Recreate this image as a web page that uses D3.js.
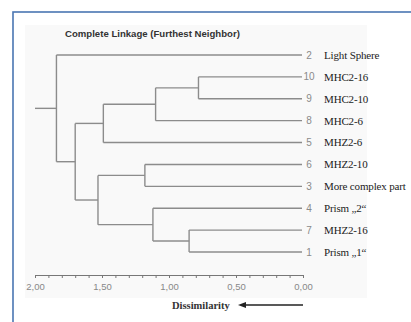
<!DOCTYPE html>
<html>
<head>
<meta charset="utf-8">
<script src="https://cdn.jsdelivr.net/npm/d3@7"></script>
<style>
  body { margin: 0; background: #fff; }
  svg { display: block; }
</style>
</head>
<body>
<svg id="dendro" width="411" height="322"></svg>
<script>
// leaf order top to bottom, case numbers and names
var leafIds = ["2", "10", "9", "8", "5", "6", "3", "4", "7", "1"];
var leafNames = ["Light Sphere", "MHC2-16", "MHC2-10", "MHC2-6", "MHZ2-6", "MHZ2-10",
  "More complex part", "Prism \u201e2\u201c", "MHZ2-16", "Prism \u201e1\u201c"];
// merge steps: [child a, child b, dissimilarity], cluster of step i is "m" + i
var merges = [
  ["10", "9", 0.78],
  ["7", "1", 0.85],
  ["m0", "8", 1.10],
  ["4", "m1", 1.12],
  ["6", "3", 1.18],
  ["m2", "5", 1.49],
  ["m4", "m3", 1.53],
  ["m5", "m6", 1.70],
  ["2", "m7", 1.84]
];
var axisTicks = [2, 1.5, 1, 0.5, 0];

var svg = d3.select("svg#dendro");

// frame
svg.append("rect").attr("x", 13).attr("y", 12).attr("width", 420).attr("height", 330)
  .attr("fill", "#fff").attr("stroke", "#4a76b2").attr("stroke-width", 1.6);
svg.append("rect").attr("x", 25).attr("y", 25).attr("width", 342).attr("height", 273)
  .attr("fill", "#f9f9f9");

var x = d3.scaleLinear().domain([2, 0]).range([35, 303]);
var y = d3.scalePoint().domain(leafIds).range([55, 252]);

// build tree from merge table
var nodes = {};
leafIds.forEach(function (id, i) { nodes[id] = { id: id, name: leafNames[i], h: 0 }; });
merges.forEach(function (m, i) {
  nodes["m" + i] = { id: "m" + i, h: m[2], children: [nodes[m[0]], nodes[m[1]]] };
});
var root = d3.hierarchy(nodes["m" + (merges.length - 1)]);
root.eachAfter(function (d) {
  d.py = d.children ? (d.children[0].py + d.children[1].py) / 2 : y(d.data.id);
});

svg.append("text").attr("x", 65).attr("y", 37)
  .style("font", "bold 9.6px 'Liberation Sans', Arial, sans-serif")
  .attr("fill", "#333").text("Complete Linkage (Furthest Neighbor)");

var g = svg.append("g").attr("fill", "none").attr("stroke", "#8c8c8c").attr("stroke-width", 1.4);

root.descendants().forEach(function (d) {
  if (d.children) {
    g.append("line").attr("x1", x(d.data.h)).attr("x2", x(d.data.h))
      .attr("y1", d.children[0].py).attr("y2", d.children[1].py);
  }
  var x0 = d.parent ? x(d.parent.data.h) : x(2);
  var x1 = d.children ? x(d.data.h) : x(0) - 1;
  g.append("line").attr("x1", x0).attr("x2", x1).attr("y1", d.py).attr("y2", d.py);
});

svg.selectAll("text.num").data(leafIds).enter().append("text")
  .attr("class", "num")
  .attr("x", 309).attr("y", function (d) { return y(d); }).attr("dy", "0.35em")
  .attr("text-anchor", "middle")
  .style("font", "10px 'Liberation Sans', Arial, sans-serif")
  .attr("fill", "#8a8a8a").text(function (d) { return d; });

svg.selectAll("text.name").data(leafNames).enter().append("text")
  .attr("class", "name")
  .attr("x", 324).attr("y", function (d, i) { return y(leafIds[i]); }).attr("dy", "0.35em")
  .style("font", "11px 'Liberation Serif', 'Times New Roman', serif")
  .style("letter-spacing", "-0.15px")
  .attr("fill", "#222").text(function (d) { return d; });

// axis
var axis = svg.append("g").attr("transform", "translate(0,275)")
  .call(d3.axisBottom(x).tickValues(d3.range(0, 21).map(function (i) { return i / 10; }))
    .tickSize(3).tickSizeOuter(3).tickPadding(5)
    .tickFormat(function (d) {
      return axisTicks.some(function (t) { return Math.abs(t - d) < 1e-6; })
        ? d.toFixed(2).replace(".", ",") : "";
    }));
axis.select(".domain").attr("stroke", "#777");
axis.selectAll(".tick line").attr("stroke", "#777");
axis.selectAll(".tick text").attr("fill", "#888")
  .style("font", "9.5px 'Liberation Sans', Arial, sans-serif");

svg.append("text").attr("x", 172).attr("y", 309)
  .style("font", "bold 10.5px 'Liberation Serif', 'Times New Roman', serif")
  .attr("fill", "#333").text("Dissimilarity");
svg.append("line").attr("x1", 303).attr("x2", 244).attr("y1", 305).attr("y2", 305)
  .attr("stroke", "#222").attr("stroke-width", 1.3);
svg.append("path").attr("d", "M238,305 L246,302 L246,308 Z").attr("fill", "#222");
</script>
</body>
</html>
